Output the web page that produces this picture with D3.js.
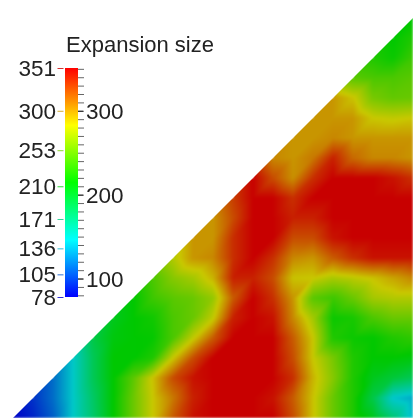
<!DOCTYPE html>
<html><head><meta charset="utf-8">
<script src="https://cdnjs.cloudflare.com/ajax/libs/d3/7.8.5/d3.min.js"></script>
<style>html,body{margin:0;padding:0;background:#fff;overflow:hidden}
#w{position:relative;width:413px;height:418px}
canvas,svg{position:absolute;left:0;top:0}
text{font-family:"Liberation Sans",Arial,sans-serif;fill:#222}
</style></head><body><div id="w"><canvas id="c" width="413" height="418"></canvas><svg id="s" width="413" height="418"></svg></div>
<script>
const title = "Expansion size";
const leftTicks = [351,300,253,210,171,136,105,78];
const rightLabels = [300,200,100];
const minorTicks = d3.range(80,351,10);
const colorStops = [78,146.25,214.5,282.75,351];
const legendColors = ["#0000ff","#00ffff","#00ff00","#ffff00","#ff0000"];
const meshColors = ["#0000c8","#00c8c8","#00c800","#c8c800","#c80000"];
// Triangular mesh: row j holds the values of columns 20-j .. 20
const row00 = [214];
const row01 = [214,225];
const row02 = [225,218,235];
const row03 = [245,240,240,245];
const row04 = [300,285,255,248,250];
const row05 = [300,300,300,283,280,283];
const row06 = [300,300,305,300,300,300,300];
const row07 = [305,300,310,340,315,305,305,300];
const row08 = [351,325,302,335,351,351,351,345,335];
const row09 = [330,351,351,335,351,351,351,351,351,351];
const row10 = [300,325,351,351,340,340,351,351,351,351,351];
const row11 = [300,300,335,351,351,325,325,345,351,351,351,351];
const row12 = [275,300,305,335,351,335,305,300,320,335,345,345,345];
const row13 = [240,260,270,290,340,340,325,285,283,272,278,285,295,305];
const row14 = [214,235,245,250,265,320,351,335,300,245,235,250,270,275,275];
const row15 = [205,214,220,240,250,280,340,351,345,305,270,218,222,240,250,250];
const row16 = [190,210,214,216,240,280,320,351,351,351,320,283,225,218,215,225,230];
const row17 = [146,185,214,214,225,283,325,351,351,351,351,325,283,255,225,214,214,210];
const row18 = [115,146,185,214,245,285,325,345,351,351,351,351,335,290,260,225,205,195,185];
const row19 = [95,115,146,180,214,250,283,310,340,351,351,351,345,320,285,250,225,190,145,135];
const row20 = [78,90,110,146,178,214,250,283,320,345,351,351,351,351,325,285,250,225,205,175,140];
const rows = [row00,row01,row02,row03,row04,row05,row06,row07,row08,row09,row10,row11,row12,row13,row14,row15,row16,row17,row18,row19,row20];

const xS = d3.scaleLinear().domain([0,20]).range([13,413]);
const yS = d3.scaleLinear().domain([0,20]).range([18,418]);
const meshColor = d3.scaleLinear().domain(colorStops).range(meshColors).clamp(true);
const val = (i,j)=>{ if(j<0||j>20||i>20) return null; const k=i-(20-j); return k<0?null:rows[j][k]; };

const off = document.createElement("canvas"); off.width=413; off.height=418;
const octx = off.getContext("2d");
const img = octx.createImageData(413,418);
for(let py=0;py<418;py++){
  for(let px=0;px<413;px++){
    const u=xS.invert(px+0.5), v=yS.invert(py+0.5);
    const i=Math.min(19,Math.max(0,Math.floor(u))), j=Math.min(19,Math.max(0,Math.floor(v)));
    const fu=u-i, fv=v-j;
    const a=val(i+1,j), b=val(i,j+1), d=val(i+1,j+1), o=val(i,j);
    if(a===null||b===null||d===null) continue;
    let q;
    if(fu+fv<1 && o!==null) q=o+(a-o)*fu+(b-o)*fv;
    else q=d+(b-d)*(1-fu)+(a-d)*(1-fv);
    const c=d3.rgb(meshColor(q));
    const p=(py*413+px)*4;
    img.data[p]=c.r;img.data[p+1]=c.g;img.data[p+2]=c.b;img.data[p+3]=255;
  }
}
octx.putImageData(img,0,0);
const ctx=document.getElementById("c").getContext("2d");
ctx.save();
ctx.filter="blur(1px)";
ctx.beginPath();
ctx.moveTo(xS(0),yS(20));ctx.lineTo(xS(20),yS(0));ctx.lineTo(xS(20)+5,yS(0));ctx.lineTo(xS(20)+5,yS(20)+5);ctx.lineTo(xS(0),yS(20)+5);ctx.closePath();
ctx.clip();
ctx.drawImage(off,0,0);
ctx.restore();

const svg=d3.select("#s");
const vS=d3.scaleLinear().domain([78,351]).range([297,68]);
const defs=svg.append("defs");
const grad=defs.append("linearGradient").attr("id","lg").attr("x1",0).attr("x2",0).attr("y1",1).attr("y2",0);
colorStops.forEach((s,k)=>grad.append("stop").attr("offset",(s-78)/(351-78)).attr("stop-color",legendColors[k]));
defs.append("filter").attr("id","soft").append("feGaussianBlur").attr("stdDeviation",0.35);
svg.append("rect").attr("x",65).attr("width",13).attr("y",vS(351)).attr("height",vS(78)-vS(351)).attr("fill","url(#lg)");
const legendColor=d3.scaleLinear().domain(colorStops).range(legendColors);

const la=svg.append("g").attr("transform","translate(63.5,0)").call(d3.axisLeft(vS).tickValues(leftTicks).tickSize(6).tickPadding(1.5).tickFormat(d3.format("d")));
la.select(".domain").remove();
la.selectAll(".tick line").attr("stroke",d=>d3.interpolateRgb(legendColor(d),"#888")(0.35)).attr("stroke-width",1);
la.selectAll(".tick text").attr("font-size",22.5).attr("dy",null).attr("y",7.5).attr("fill","#222").attr("filter","url(#soft)").style("font-family",'"Liberation Sans"');

const ra=svg.append("g").attr("transform","translate(78,0)").call(d3.axisRight(vS).tickValues(minorTicks).tickSize(6).tickFormat(""));
ra.select(".domain").remove();
ra.selectAll(".tick line").attr("stroke","#666").attr("stroke-width",1);
svg.append("g").attr("transform","translate(78,0)").selectAll("line").data(rightLabels).join("line")
  .attr("x1",0).attr("x2",5).attr("y1",d=>vS(d)+.5).attr("y2",d=>vS(d)+.5).attr("stroke","#222");
svg.append("g").selectAll("text").data(rightLabels).join("text")
  .attr("x",86).attr("y",d=>vS(d)+8).attr("font-size",22.5).attr("filter","url(#soft)").text(d=>d);
svg.append("text").attr("x",66).attr("y",52).attr("font-size",22).attr("filter","url(#soft)").text(title);
</script></body></html>
